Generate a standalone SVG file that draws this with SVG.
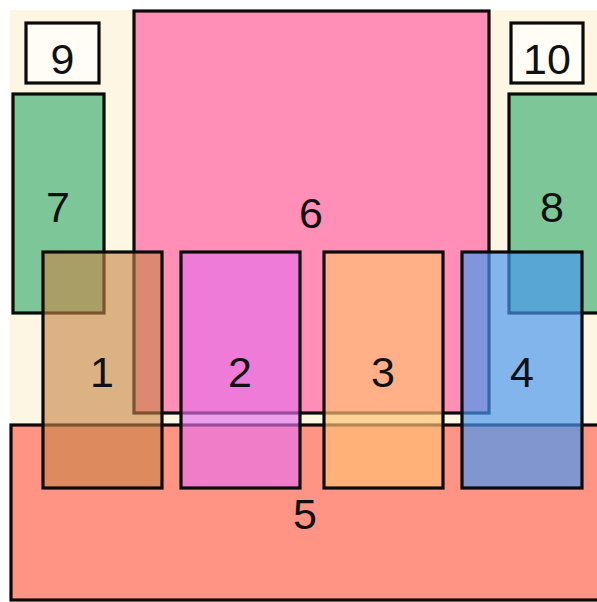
<svg xmlns="http://www.w3.org/2000/svg" width="597" height="602" viewBox="0 0 597 602">
<style>
.b{stroke:#0a0a0a;stroke-width:3.2}
.t{font-family:"Liberation Sans",Arial,sans-serif;font-size:43px;fill:#111;text-anchor:middle}
</style>
<rect x="0" y="0" width="597" height="602" fill="#ffffff"/>
<rect x="10" y="10" width="600" height="600" fill="#fdf6e3"/>
<g id="n9"><rect class="b" x="26" y="23" width="73" height="60" fill="#fffdf6"/><text class="t" x="62.5" y="74">9</text></g>
<g id="n10"><rect class="b" x="511" y="23" width="72" height="60" fill="#fffdf6"/><text class="t" x="547" y="74">10</text></g>
<g id="n7"><rect class="b" x="13" y="94" width="91" height="219" fill="#7dc698"/><text class="t" x="58" y="222">7</text></g>
<g id="n8"><rect class="b" x="509" y="94" width="100" height="219" fill="#7dc698"/><text class="t" x="552" y="222">8</text></g>
<g id="n6"><rect class="b" x="134" y="11" width="355" height="402" fill="#ff8fb6"/><text class="t" x="311" y="228">6</text></g>
<g id="n5"><rect class="b" x="11" y="425" width="600" height="175" fill="#ff9485"/><text class="t" x="305" y="529">5</text></g>
<g id="n1"><rect class="b" x="43" y="252" width="119" height="236" fill="#c68545" fill-opacity="0.6"/><text class="t" x="102" y="387">1</text></g>
<g id="n2"><rect class="b" x="181" y="252" width="119" height="236" fill="#e670ec" fill-opacity="0.65"/><text class="t" x="240" y="387">2</text></g>
<g id="n3"><rect class="b" x="324" y="252" width="119" height="236" fill="#ffc070" fill-opacity="0.68"/><text class="t" x="383" y="387">3</text></g>
<g id="n4"><rect class="b" x="462" y="252" width="120" height="236" fill="#4696f0" fill-opacity="0.68"/><text class="t" x="522" y="387">4</text></g>
<g id="connectors"></g>
</svg>
